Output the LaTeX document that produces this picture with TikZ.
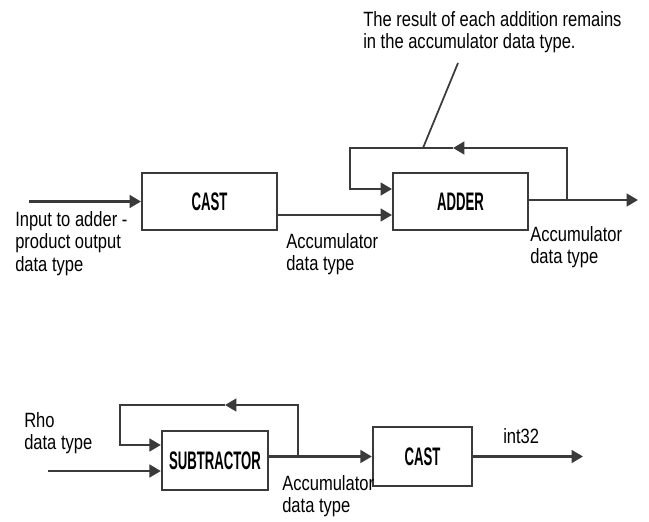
\documentclass[tikz,border=0pt]{standalone}
\usepackage{fontspec}
\setmainfont{Liberation Sans}[FakeStretch=0.8]
\newfontfamily\boxfont{Liberation Sans}[FakeStretch=0.52]
\usepackage{tikz}
\usetikzlibrary{positioning, arrows.meta}
\definecolor{linegray}{RGB}{58,58,58}

\begin{document}
\begin{tikzpicture}[
        x=0.75pt, y=-0.75pt,
        blockbox/.style={rectangle, draw=linegray, line width=1.8pt, inner sep=0pt, minimum height=43pt, font=\boxfont\bfseries\fontsize{19pt}{20pt}\selectfont},
        lbl/.style={anchor=north west, align=left, inner sep=0pt, font=\fontsize{15.5pt}{17pt}\selectfont},
        wire/.style={draw=linegray, line width=1.8pt},
        sig/.style={wire, -{Triangle[length=8.5pt, width=9.5pt]}}
    ]
    \useasboundingbox (0,0) rectangle (649,521);

    % Upper diagram - accumulation
    \node[blockbox, minimum width=101pt] (castA) at (209.5,201.5) {CAST};
    \node[blockbox, minimum width=101pt] (adder) at (460.5,201.5) {ADDER};
    \coordinate (inA) at (29,201.5);
    \coordinate (accA) at (0,215);
    \coordinate (outA) at (638,200);
    \coordinate (brA) at (567,200);
    \coordinate (tipA) at (453,148);
    \coordinate (fbA) at (350,148);
    \coordinate (fbinA) at (0,189);
    \draw[sig] (inA) -- (castA);
    \draw[sig] (castA.east |- accA) -- (adder.west |- accA);
    \draw[sig] (adder.east |- outA) -- (outA);
    \draw[sig] (brA) |- (tipA);
    \draw[sig] (tipA) -- (fbA) |- (adder.west |- fbinA);

    \node[lbl] (inAtxt) at (15,211) {Input to adder -\\product output\\data type};
    \node[lbl] (accAtxt) at (286,233) {Accumulator\\data type};
    \node[lbl] (outAtxt) at (530,226) {Accumulator\\data type};
    \node[lbl] (note) at (363,11) {The result of each addition remains\\in the accumulator data type.};
    \coordinate (noteFoot) at (423,148);
    \coordinate (noteTop) at (458,63);
    \draw[wire, line width=1.3pt] (noteFoot) -- (noteTop);

    % Lower diagram - subtraction
    \node[blockbox, minimum width=79.5pt, minimum height=44pt] (sub) at (215,460.5) {SUBTRACTOR};
    \node[blockbox, minimum width=74.25pt, minimum height=44pt] (castB) at (422.5,456.5) {CAST};
    \coordinate (inB) at (48,471);
    \coordinate (brB) at (298,456.5);
    \coordinate (tipB) at (225,405);
    \coordinate (fbB) at (120,405);
    \coordinate (fbinB) at (0,445);
    \coordinate (outB) at (583,456.5);
    \draw[sig] (inB) -- (sub.west |- inB);
    \draw[sig] (sub.east |- castB) -- (castB);
    \draw[sig] (brB) |- (tipB);
    \draw[sig] (tipB) -- (fbB) |- (sub.west |- fbinB);
    \draw[sig] (castB) -- (outB);

    \node[lbl] (rhoTxt) at (24,412) {Rho\\data type};
    \node[lbl] (accBtxt) at (282,475) {Accumulator\\data type};
    \node[lbl] (intTxt) at (503,428) {int32};
\end{tikzpicture}
\end{document}
